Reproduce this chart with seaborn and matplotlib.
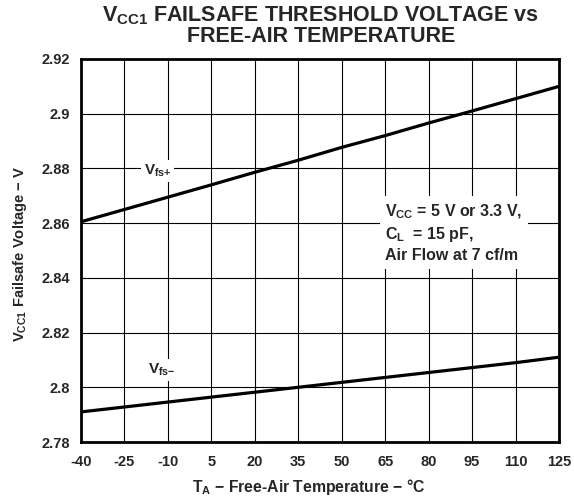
import numpy as np
import pandas as pd
import seaborn as sns
import matplotlib.pyplot as plt

# curves
temp = [-40, -25, -10, 5, 20, 35, 50, 65, 80, 95, 110, 125]
vfs_pos = [2.8605, 2.865, 2.8695, 2.874, 2.8786, 2.883, 2.8877, 2.892, 2.8966, 2.901, 2.9055, 2.910]
vfs_neg = [2.791, 2.7928, 2.7946, 2.7964, 2.7982, 2.800, 2.8018, 2.8036, 2.8054, 2.8072, 2.809, 2.811]
yticks = [2.78, 2.80, 2.82, 2.84, 2.86, 2.88, 2.90, 2.92]
ylabels = ['2.78', '2.8', '2.82', '2.84', '2.86', '2.88', '2.9', '2.92']

sns.set_style("white")
plt.rcParams['font.family'] = ['Liberation Sans', 'DejaVu Sans']
plt.rcParams['mathtext.fontset'] = 'custom'
plt.rcParams['mathtext.rm'] = 'Liberation Sans:bold'
plt.rcParams['mathtext.it'] = 'Liberation Sans:bold'
plt.rcParams['mathtext.bf'] = 'Liberation Sans:bold'

df = pd.DataFrame({'T': temp + temp,
                   'V': vfs_pos + vfs_neg,
                   'curve': ['pos'] * len(temp) + ['neg'] * len(temp)})

fig = plt.figure(figsize=(5.74, 4.99), dpi=100)
ax = fig.add_axes([81 / 574, 1 - 442 / 499, 478 / 574, 383 / 499])

sns.lineplot(data=df, x='T', y='V', units='curve', estimator=None,
             color='black', lw=2.3, ax=ax, legend=False)

ax.set_xlim(-40, 125)
ax.set_ylim(2.78, 2.92)
ax.set_xticks(temp)
ax.set_xticklabels([str(t) for t in temp], fontsize=10.5, fontweight='bold')
ax.set_yticks(yticks)
ax.set_yticklabels(ylabels, fontsize=10.5, fontweight='bold')
ax.grid(True, color='black', lw=0.8)
ax.set_axisbelow(True)
for s in ax.spines.values():
    s.set_linewidth(2)
    s.set_color('black')
ax.tick_params(length=0)
ax.tick_params(axis='x', pad=9)
ax.tick_params(axis='y', pad=8)

ax.set_xlabel(r'T$_{\mathrm{A}}$ − Free-Air Temperature − °C', fontsize=11.3,
              fontweight='bold', va='center')
ax.xaxis.set_label_coords(0.477, -0.118)
ax.set_ylabel(r'V$_{\mathrm{CC1}}$ Failsafe Voltage − V', fontsize=10.6,
              fontweight='bold', va='center')
ax.yaxis.set_label_coords(-0.128, 0.49)

fig.text(0.559, 0.968, r'V$_{\mathrm{CC1}}$ FAILSAFE THRESHOLD VOLTAGE vs',
         ha='center', va='center', fontsize=15.5, fontweight='bold')
fig.text(0.559, 0.926, 'FREE-AIR TEMPERATURE',
         ha='center', va='center', fontsize=15.5, fontweight='bold')

box = dict(facecolor='white', edgecolor='none', pad=2)
ax.text(-13.5, 2.879, r'V$_{\mathrm{fs{+}}}$', ha='center', va='center',
        fontsize=11, fontweight='bold', bbox=box)
ax.text(-12, 2.8063, r'V$_{\mathrm{fs{-}}}$', ha='center', va='center',
        fontsize=11, fontweight='bold', bbox=box)
ax.text(65, 2.8564, r'V$_{\mathrm{CC}}$ = 5 V or 3.3 V,' + '\n' +
        r'C$_{\mathrm{L}}$  = 15 pF,' + '\n' + 'Air Flow at 7 cf/m',
        ha='left', va='center', fontsize=11.5, fontweight='bold',
        linespacing=1.3, bbox=dict(facecolor='white', edgecolor='none', pad=4))

plt.savefig('out.png', dpi=100)
